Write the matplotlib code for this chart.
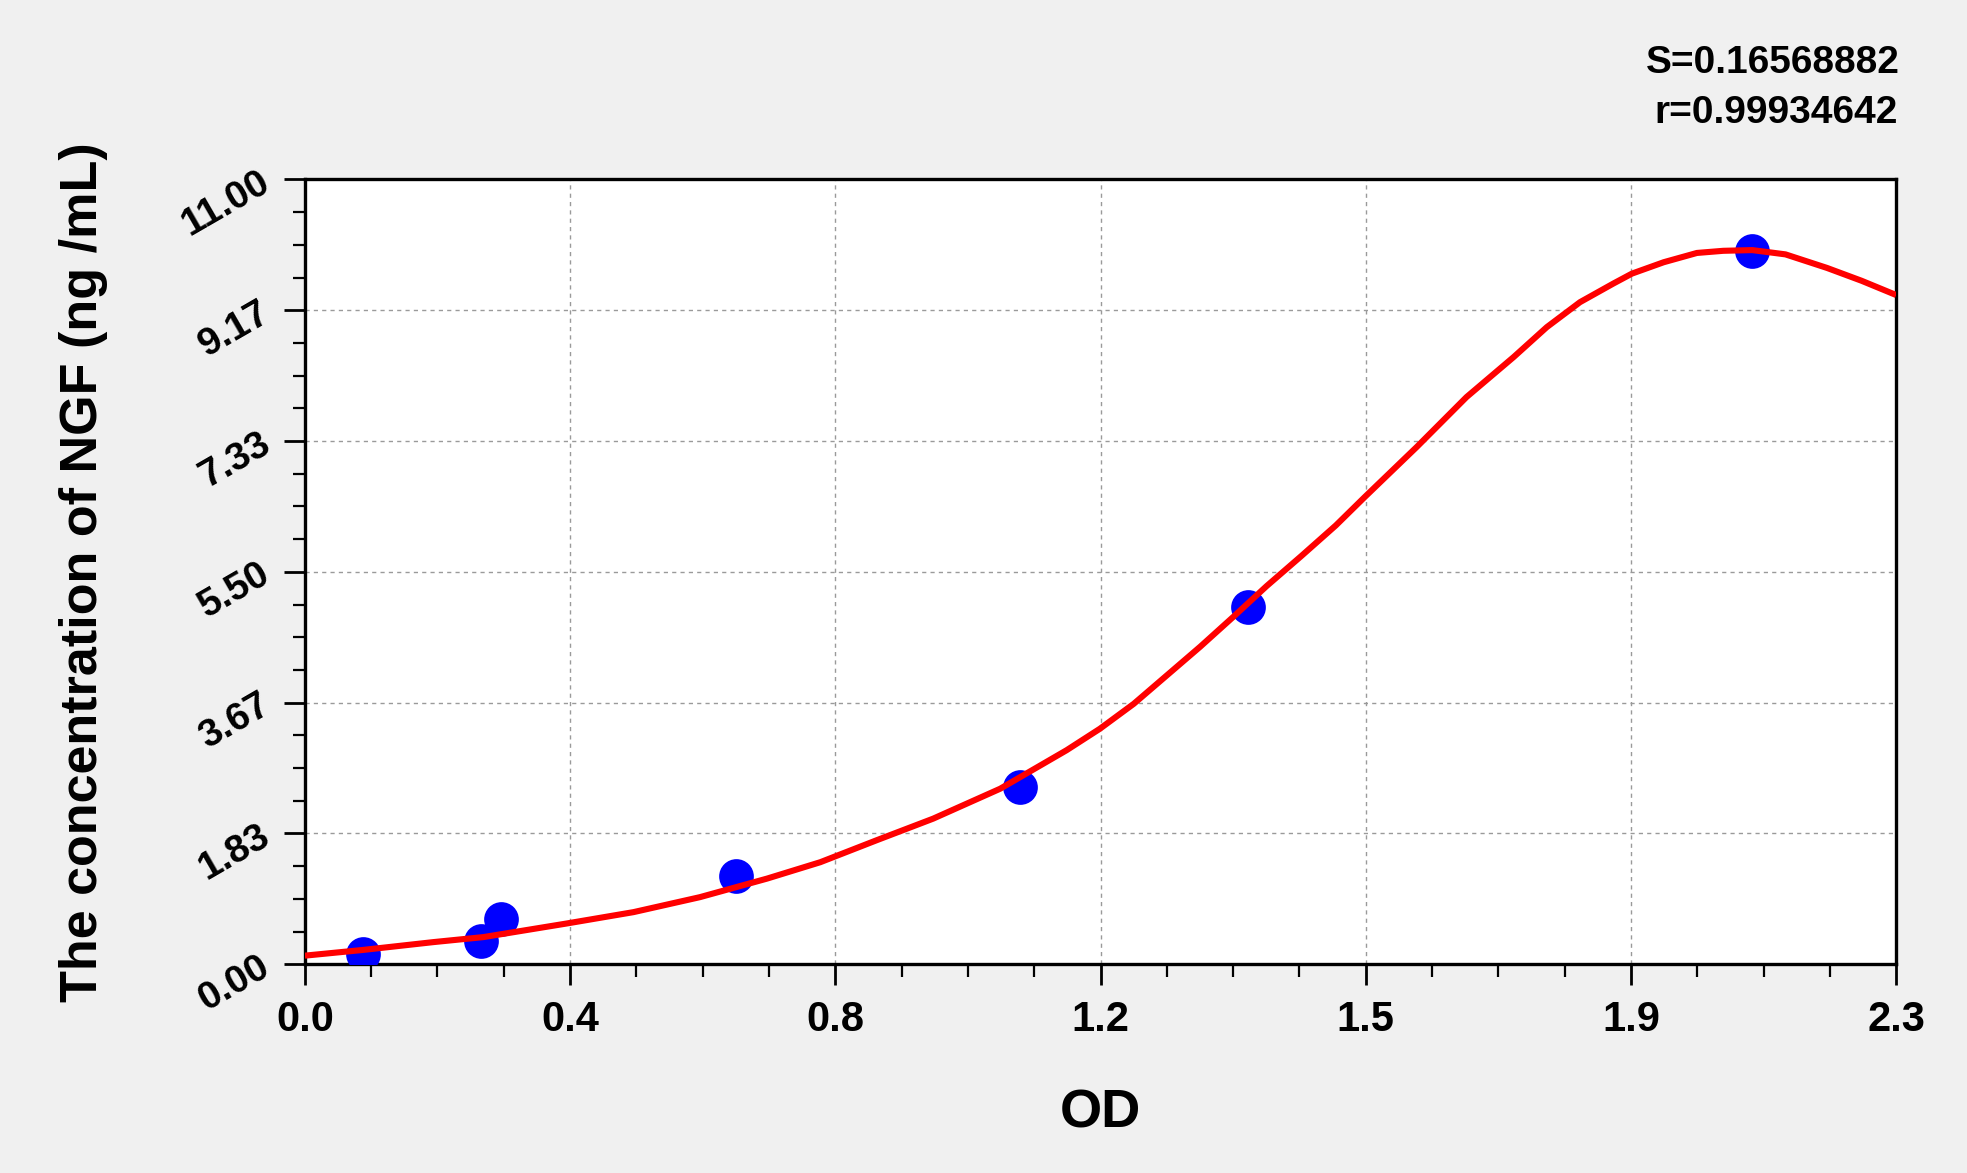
import matplotlib
matplotlib.use("Agg")
import matplotlib.pyplot as plt
from matplotlib import font_manager
from matplotlib.ticker import FixedLocator, AutoMinorLocator

# Standard points (OD vs concentration)
od_points = [0.084, 0.254, 0.284, 0.623, 1.034, 1.363, 2.092]
conc_points = [0.15, 0.33, 0.64, 1.23, 2.48, 5.01, 10.00]

# Fitted curve
curve_od = [0.0, 0.084, 0.186, 0.258, 0.378, 0.475, 0.571, 0.668, 0.745, 0.827,
            0.908, 1.005, 1.101, 1.149, 1.198, 1.246, 1.294, 1.342, 1.390, 1.440,
            1.490, 1.532, 1.607, 1.679, 1.747, 1.795, 1.843, 1.891, 1.918, 1.964,
            2.012, 2.050, 2.092, 2.140, 2.200, 2.250, 2.300]
curve_conc = [0.12, 0.20, 0.31, 0.38, 0.57, 0.73, 0.94, 1.20, 1.43, 1.74,
              2.04, 2.46, 3.00, 3.30, 3.65, 4.05, 4.45, 4.87, 5.30, 5.72,
              6.15, 6.55, 7.25, 7.95, 8.51, 8.93, 9.28, 9.54, 9.68, 9.84,
              9.97, 10.00, 10.01, 9.95, 9.76, 9.58, 9.38]

# Axis ticks
x_max = 2.3
y_max = 11.0
x_tick_labels = ["0.0", "0.4", "0.8", "1.2", "1.5", "1.9", "2.3"]
y_tick_labels = ["0.00", "1.83", "3.67", "5.50", "7.33", "9.17", "11.00"]

stats_text = ["S=0.16568882", "r=0.99934642"]

# Fonts
names = {f.name for f in font_manager.fontManager.ttflist}
main_font = "Liberation Sans" if "Liberation Sans" in names else "DejaVu Sans"
plt.rcParams["font.family"] = main_font

fig = plt.figure(figsize=(19.67, 11.73), dpi=100, facecolor="#f0f0f0")
ax = fig.add_axes([0.155, 0.178, 0.809, 0.669])
ax.set_facecolor("white")

# Grid
ax.grid(True, which="major", color="#9a9a9a", linestyle=(0, (3, 3)), linewidth=1.0)
ax.set_axisbelow(True)

# Points and curve
ax.plot(od_points, conc_points, "o", color="#0000ff", markersize=25,
        markeredgewidth=0, zorder=3)
ax.plot(curve_od, curve_conc, "-", color="#ff0000", linewidth=4.4, zorder=4,
        solid_joinstyle="round", solid_capstyle="butt")

ax.set_xlim(0, x_max)
ax.set_ylim(0, y_max)

# Ticks
n = len(x_tick_labels) - 1
ax.xaxis.set_major_locator(FixedLocator([x_max * i / n for i in range(n + 1)]))
ax.set_xticklabels(x_tick_labels)
m = len(y_tick_labels) - 1
ax.yaxis.set_major_locator(FixedLocator([y_max * i / m for i in range(m + 1)]))
ax.set_yticklabels(y_tick_labels)
ax.xaxis.set_minor_locator(AutoMinorLocator(4))
ax.yaxis.set_minor_locator(AutoMinorLocator(4))

ax.tick_params(which="major", direction="out", length=15, width=2.0, color="black")
ax.tick_params(which="minor", direction="out", length=9, width=1.6, color="black")
ax.tick_params(axis="x", which="major", pad=11, labelsize=30)
ax.tick_params(axis="y", which="major", pad=12, labelsize=28)

for lab in ax.get_xticklabels():
    lab.set_fontweight("bold")
for lab in ax.get_yticklabels():
    lab.set_fontweight("bold")
    lab.set_rotation(30)
    lab.set_rotation_mode("anchor")
    lab.set_ha("right")
    lab.set_va("center")

for sp in ax.spines.values():
    sp.set_linewidth(2.4)
    sp.set_color("black")

# Axis labels
ax.set_xlabel("OD", fontsize=39, fontweight="bold")
ax.xaxis.set_label_coords(0.5, -0.19)
ax.xaxis.label.set_va("center")

ax.set_ylabel("The concentration of NGF (ng /mL)", fontsize=37.5, fontweight="bold")
ax.yaxis.set_label_coords(-0.139, 0.5)
ax.yaxis.label.set_va("center")

# Fit statistics
fig.text(1900 / 1967, 1 - 63 / 1173, stats_text[0], ha="right", va="center",
         fontsize=28, fontweight="bold")
fig.text(1898 / 1967, 1 - 113 / 1173, stats_text[1], ha="right", va="center",
         fontsize=28, fontweight="bold")

fig.savefig("out.png", dpi=100, facecolor=fig.get_facecolor())
